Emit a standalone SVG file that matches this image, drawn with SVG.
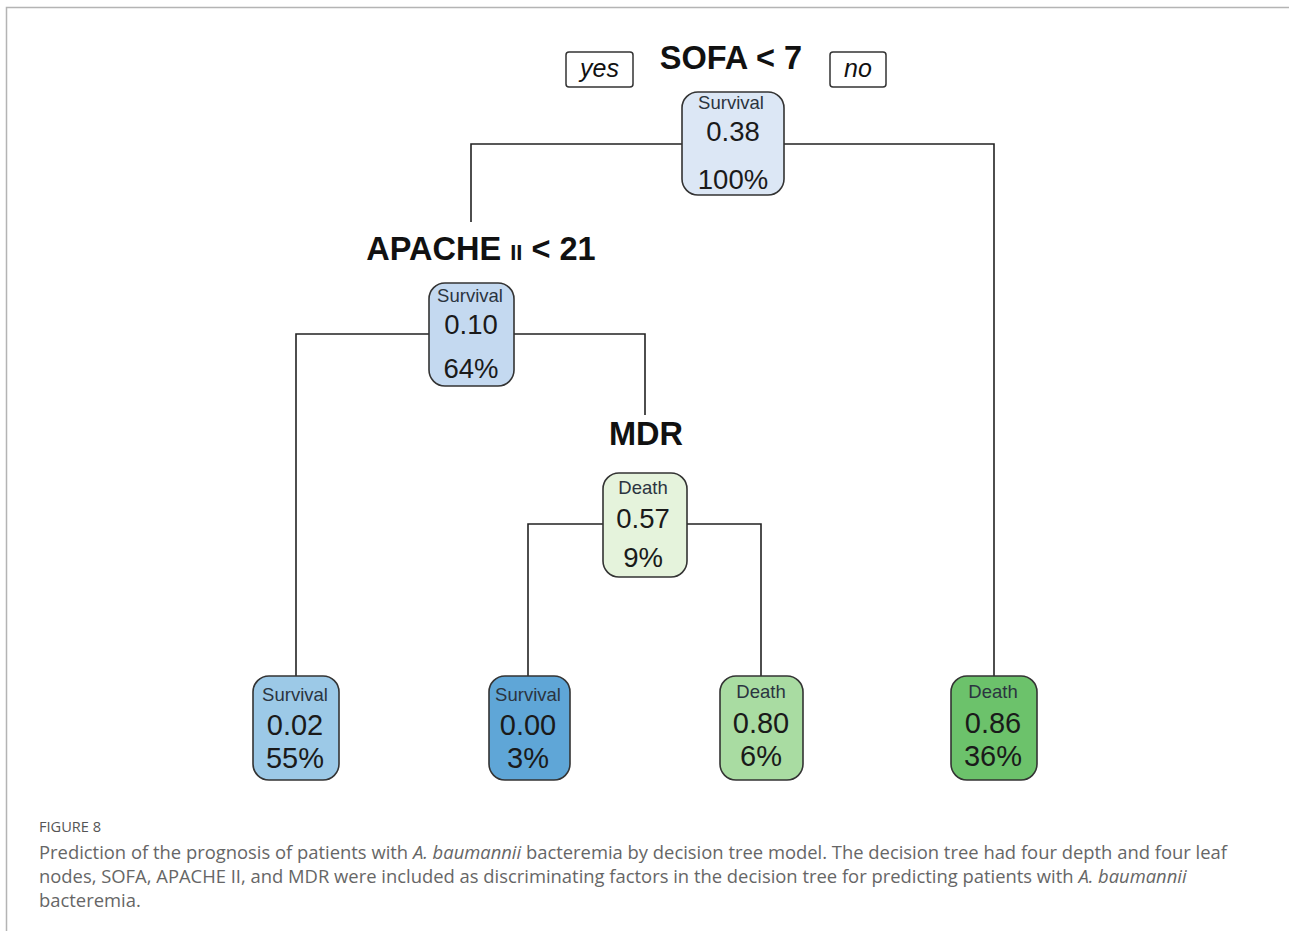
<svg xmlns="http://www.w3.org/2000/svg" width="1289" height="931" viewBox="0 0 1289 931">
<style>
.frame{stroke:#b4b4b4;stroke-width:1.5;fill:none}
.edge{stroke:#222;stroke-width:1.6;fill:none}
.box{stroke:#333;stroke-width:1.6}
.t{font-family:"Liberation Sans",Arial,sans-serif;fill:#1a1a1a;text-anchor:middle}
.cls{font-size:18.5px;fill:#2b3440}
.val{font-size:27.5px}
.lv{font-size:29px}
.split{font-family:"Liberation Sans",Arial,sans-serif;font-weight:bold;font-size:32.5px;fill:#111;text-anchor:middle}
.lab{fill:#fff;stroke:#333;stroke-width:1.5}
.labt{font-family:"Liberation Sans",Arial,sans-serif;font-style:italic;font-size:25px;fill:#111;text-anchor:middle}
.cap{font-family:"Open Sans","Liberation Sans",sans-serif;font-size:18.4px;fill:#666}
.fig{font-family:"Open Sans","Liberation Sans",sans-serif;font-size:14.6px;fill:#555}
</style>
<rect width="1289" height="931" fill="#fff"/>
<path class="frame" d="M6.5 931 V7.5 H1289"/>

<g id="connectors">
<path class="edge" d="M471 222 V144 H994 V676"/>
<path class="edge" d="M296 677 V334 H645 V415"/>
<path class="edge" d="M528 677 V524 H761 V677"/>
</g>

<g id="labels">
<rect class="lab" x="566" y="52" width="67" height="35" rx="3"/>
<text class="labt" x="599.5" y="77">yes</text>
<rect class="lab" x="830" y="52" width="56" height="35" rx="3"/>
<text class="labt" x="858" y="77">no</text>
<text class="split" x="731" y="69">SOFA &lt; 7</text>
<text class="split" x="481" y="260">APACHE <tspan font-size="22px">II</tspan> &lt; 21</text>
<text class="split" x="646" y="445">MDR</text>
</g>

<g id="node-root">
<rect class="box" x="682" y="92" width="102" height="103" rx="16" fill="#dce7f5"/>
<text class="t cls" x="731" y="109">Survival</text>
<text class="t val" x="733" y="141">0.38</text>
<text class="t val" x="733" y="189">100%</text>
</g>

<g id="node-apache">
<rect class="box" x="429" y="283" width="85" height="103" rx="16" fill="#c4d9f0"/>
<text class="t cls" x="470" y="302">Survival</text>
<text class="t val" x="471" y="334">0.10</text>
<text class="t val" x="471" y="378">64%</text>
</g>

<g id="node-mdr">
<rect class="box" x="603" y="473" width="84" height="104" rx="16" fill="#e5f3dc"/>
<text class="t cls" x="643" y="494">Death</text>
<text class="t val" x="643" y="528">0.57</text>
<text class="t val" x="643" y="567">9%</text>
</g>

<g id="leaf-1">
<rect class="box" x="253" y="676" width="86" height="104" rx="16" fill="#9cc9e7"/>
<text class="t cls" x="295" y="701">Survival</text>
<text class="t lv" x="295" y="735">0.02</text>
<text class="t lv" x="295" y="768">55%</text>
</g>

<g id="leaf-2">
<rect class="box" x="489" y="676" width="81" height="104" rx="16" fill="#5fa6d7"/>
<text class="t cls" x="528" y="701">Survival</text>
<text class="t lv" x="528" y="735">0.00</text>
<text class="t lv" x="528" y="768">3%</text>
</g>

<g id="leaf-3">
<rect class="box" x="720" y="676" width="83" height="104" rx="16" fill="#a9dca2"/>
<text class="t cls" x="761" y="698">Death</text>
<text class="t lv" x="761" y="733">0.80</text>
<text class="t lv" x="761" y="766">6%</text>
</g>

<g id="leaf-4">
<rect class="box" x="951" y="676" width="86" height="104" rx="16" fill="#6cc26b"/>
<text class="t cls" x="993" y="698">Death</text>
<text class="t lv" x="993" y="733">0.86</text>
<text class="t lv" x="993" y="766">36%</text>
</g>

<g id="caption">
<text class="fig" x="39" y="832">FIGURE 8</text>
<text class="cap" x="39" y="859">Prediction of the prognosis of patients with <tspan font-style="italic">A. baumannii</tspan> bacteremia by decision tree model. The decision tree had four depth and four leaf</text>
<text class="cap" x="39" y="883">nodes, SOFA, APACHE II, and MDR were included as discriminating factors in the decision tree for predicting patients with <tspan font-style="italic">A. baumannii</tspan></text>
<text class="cap" x="39" y="907">bacteremia.</text>
</g>
</svg>
